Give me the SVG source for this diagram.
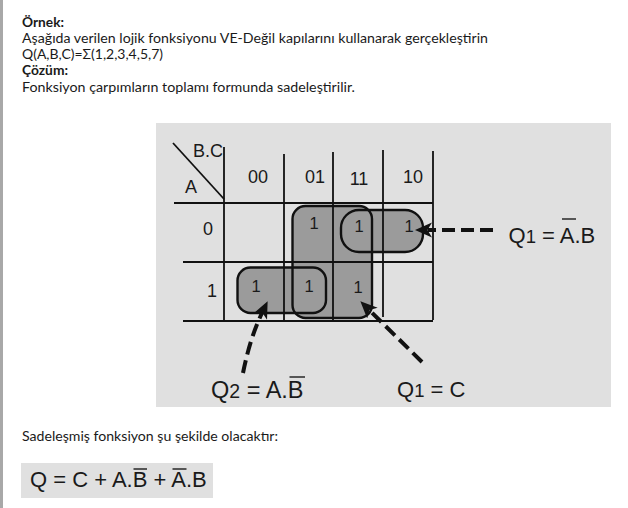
<svg xmlns="http://www.w3.org/2000/svg" width="628" height="508" viewBox="0 0 628 508">
<style>
.body{font-family:Lato,"Open Sans","Liberation Sans",Arial,sans-serif;font-size:13.6px;fill:#1a1a1a}
.b{font-weight:bold}
.km{font-family:"Liberation Sans",Arial,sans-serif;fill:#1a1a1a}
.hd{font-size:18px}
.cell{font-size:16.5px;text-anchor:middle}
.lbl{font-size:22px}
.grid{stroke:#111;stroke-width:1.8;fill:none}
.loopfill{fill:#9b9b9b;stroke:none}
.loop{fill:none;stroke:#111;stroke-width:2.4}
.arrow{fill:none;stroke:#111;stroke-width:4;stroke-dasharray:13 6}
.ovl{stroke:#1a1a1a;stroke-width:1.4}
</style>
<defs>
<marker id="ah" markerUnits="userSpaceOnUse" markerWidth="19" markerHeight="17" refX="4" refY="7.5" orient="auto" viewBox="0 0 19 17">
<path d="M0,0 L17,7.5 L0,15 L4.5,7.5 Z" fill="#111"/>
</marker>
</defs>
<rect x="0" y="0" width="628" height="508" fill="#ffffff"/>
<rect x="0" y="0" width="3" height="508" fill="#a8a8a8"/>

<g id="text-top">
<text class="body b" x="22" y="26.5" textLength="42" lengthAdjust="spacingAndGlyphs">Örnek:</text>
<text class="body" x="22" y="42.8" textLength="466" lengthAdjust="spacingAndGlyphs">Aşağıda verilen lojik fonksiyonu VE-Değil kapılarını kullanarak gerçekleştirin</text>
<text class="body" x="22" y="59" textLength="141" lengthAdjust="spacingAndGlyphs">Q(A,B,C)=Σ(1,2,3,4,5,7)</text>
<text class="body b" x="22" y="75.3" textLength="46" lengthAdjust="spacingAndGlyphs">Çözüm:</text>
<text class="body" x="22" y="91.5" textLength="333" lengthAdjust="spacingAndGlyphs">Fonksiyon çarpımların toplamı formunda sadeleştirilir.</text>
</g>

<rect x="156" y="123" width="455" height="284" fill="#e0e0e0"/>

<g id="loop-fills">
<rect class="loopfill" x="292.5" y="206" width="79.5" height="112" rx="13"/>
<rect class="loopfill" x="341" y="210" width="82" height="42" rx="18"/>
<rect class="loopfill" x="237.5" y="267.5" width="88.5" height="45.5" rx="13"/>
</g>

<g id="kmap-grid">
<line class="grid" x1="224" y1="147" x2="224" y2="321"/>
<line class="grid" x1="284" y1="154" x2="284" y2="321"/>
<line class="grid" x1="333" y1="152" x2="333" y2="321"/>
<line class="grid" x1="383" y1="150" x2="383" y2="317"/>
<line class="grid" x1="433" y1="151" x2="433" y2="320"/>
<line class="grid" x1="174" y1="203" x2="433" y2="203"/>
<line class="grid" x1="183" y1="262" x2="433" y2="262"/>
<line class="grid" x1="183" y1="321" x2="433" y2="321"/>
<line class="grid" x1="173" y1="143" x2="224" y2="199"/>
<text class="km hd" x="193" y="157">B.C</text>
<text class="km hd" x="185" y="193">A</text>
<text class="km hd" x="258" y="183" text-anchor="middle">00</text>
<text class="km hd" x="315" y="183" text-anchor="middle">01</text>
<text class="km hd" x="359" y="185" text-anchor="middle">11</text>
<text class="km hd" x="413" y="183" text-anchor="middle">10</text>
<text class="km hd" x="208" y="235" text-anchor="middle">0</text>
<text class="km hd" x="212" y="297" text-anchor="middle">1</text>
</g>

<g id="loop-c">
<rect class="loop" x="292.5" y="206" width="79.5" height="112" rx="13"/>
</g>
<g id="loop-ab">
<rect class="loop" x="341" y="210" width="82" height="42" rx="18"/>
</g>
<g id="loop-a-nb">
<rect class="loop" x="237.5" y="267.5" width="88.5" height="45.5" rx="13"/>
</g>

<g id="cells">
<text class="km cell" x="314" y="229">1</text>
<text class="km cell" x="359" y="232">1</text>
<text class="km cell" x="409" y="232">1</text>
<text class="km cell" x="256" y="292">1</text>
<text class="km cell" x="309" y="292">1</text>
<text class="km cell" x="358" y="292.5">1</text>
</g>

<g id="connectors">
<path class="arrow" d="M493,230 L428,230" marker-end="url(#ah)"/>
<path class="arrow" d="M422,362 L369.6,310.4" marker-end="url(#ah)"/>
<path class="arrow" d="M243,373 Q250,338 262,313" marker-end="url(#ah)"/>
</g>

<g id="label-q1-ab">
<text class="km lbl" x="508.5" y="243">Q<tspan font-size="18.5">1</tspan> = A.B</text>
<line class="ovl" x1="562" y1="219" x2="576" y2="219"/>
</g>
<g id="label-q2">
<text class="km" font-size="23.5" x="211" y="398">Q<tspan font-size="19.5">2</tspan> = A.B</text>
<line class="ovl" x1="289.5" y1="377" x2="305" y2="377"/>
</g>
<g id="label-q1-c">
<text class="km lbl" x="397" y="397">Q<tspan font-size="18.5">1</tspan> = C</text>
</g>

<g id="text-bottom">
<text class="body" x="22" y="441" textLength="256" lengthAdjust="spacingAndGlyphs">Sadeleşmiş fonksiyon şu şekilde olacaktır:</text>
</g>

<g id="formula">
<rect x="21" y="463" width="192" height="35" fill="#e0e0e0"/>
<text class="km lbl" x="30" y="487">Q = C + A.B + A.B</text>
<line class="ovl" x1="133.5" y1="469" x2="147" y2="469"/>
<line class="ovl" x1="172.5" y1="469" x2="186.5" y2="469"/>
</g>
</svg>
